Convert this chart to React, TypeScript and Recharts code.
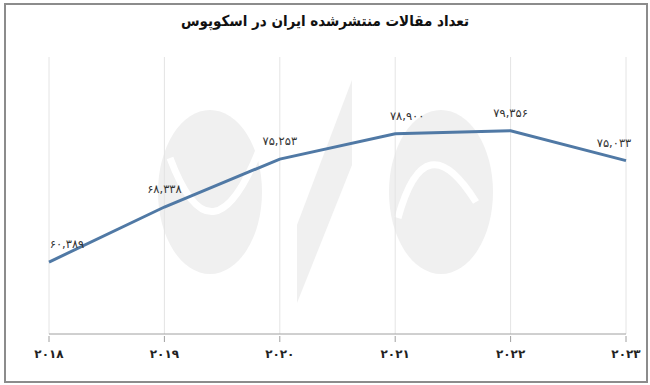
import React from 'react';
import { LineChart, Line, XAxis, YAxis, CartesianGrid, LabelList } from 'recharts';

const years = ['۲۰۱۸', '۲۰۱۹', '۲۰۲۰', '۲۰۲۱', '۲۰۲۲', '۲۰۲۳'];
const articles = [60389, 68338, 75253, 78900, 79356, 75033];
const title = 'تعداد مقالات منتشرشده ایران در اسکوپوس';

const data = years.map((year, i) => ({ year, articles: articles[i] }));

const faDigits = (n: number) =>
  n.toLocaleString('en-US').replace(/\d/g, (d) => '۰۱۲۳۴۵۶۷۸۹'[Number(d)]);

const FONT = '"DejaVu Sans", sans-serif';
const TITLE_FONT = '"DejaVu Sans Condensed", "DejaVu Sans", sans-serif';

function YearTick({ x, y, payload }: any) {
  return (
    <g>
      <line x1={x} x2={x} y1={y - 6} y2={y} stroke="#a0a0a0" />
      <text x={x} y={y + 16} textAnchor="middle" fontFamily={FONT} fontWeight="bold" fontSize={12} fill="#222">
        {payload.value}
      </text>
    </g>
  );
}

function ValueLabel({ x, y, value, index }: any) {
  let dx = 0;
  if (index === 0) dx = 18;
  if (index === 3) dx = 12;
  if (index === years.length - 1) dx = -12;
  return (
    <text x={x + dx} y={y - 14} textAnchor="middle" fontFamily={FONT} fontSize={11.5} fill="#333">
      {faDigits(value)}
    </text>
  );
}

function Watermark() {
  return (
    <svg width={650} height={385} style={{ position: 'absolute', left: 0, top: 0 }}>
      <ellipse cx={210} cy={192} rx={52} ry={82} fill="#f0f0f0" />
      <path d="M 170 158 Q 212 270 260 148" stroke="#fff" strokeWidth={7} fill="none" />
      <ellipse cx={441} cy={192} rx={52} ry={82} fill="#f0f0f0" />
      <path d="M 398 218 Q 425 120 476 202" stroke="#fff" strokeWidth={7} fill="none" />
      <polygon points="352,80 352,165 297,303 297,225" fill="#f0f0f0" />
    </svg>
  );
}

export default function App() {
  return (
    <div style={{ position: 'absolute', left: 0, top: 0, width: 650, height: 385, background: '#fff' }}>
      <Watermark />
      <div
        style={{
          position: 'absolute',
          left: 4,
          top: 3,
          width: 640,
          height: 376,
          border: '2px solid #8c8c8c',
        }}
      />
      <div
        style={{
          position: 'absolute',
          left: 0,
          top: 12,
          width: 650,
          textAlign: 'center',
          fontFamily: TITLE_FONT,
          fontWeight: 'bold',
          fontSize: 15,
          color: '#111',
          direction: 'rtl',
        }}
      >
        {title}
      </div>
      <div style={{ position: 'absolute', left: 0, top: 0 }}>
        <LineChart width={650} height={385} data={data} margin={{ top: 57, right: 24, bottom: 21, left: 49 }}>
          <CartesianGrid horizontal={false} stroke="#e4e4e4" />
          <XAxis
            dataKey="year"
            height={30}
            axisLine={{ stroke: '#a0a0a0' }}
            tickLine={false}
            tick={<YearTick />}
            interval={0}
          />
          <YAxis hide domain={[50000, 90000]} />
          <Line
            type="linear"
            dataKey="articles"
            stroke="#5079a5"
            strokeWidth={3}
            dot={false}
            isAnimationActive={false}
          >
            <LabelList dataKey="articles" content={<ValueLabel />} />
          </Line>
        </LineChart>
      </div>
    </div>
  );
}
